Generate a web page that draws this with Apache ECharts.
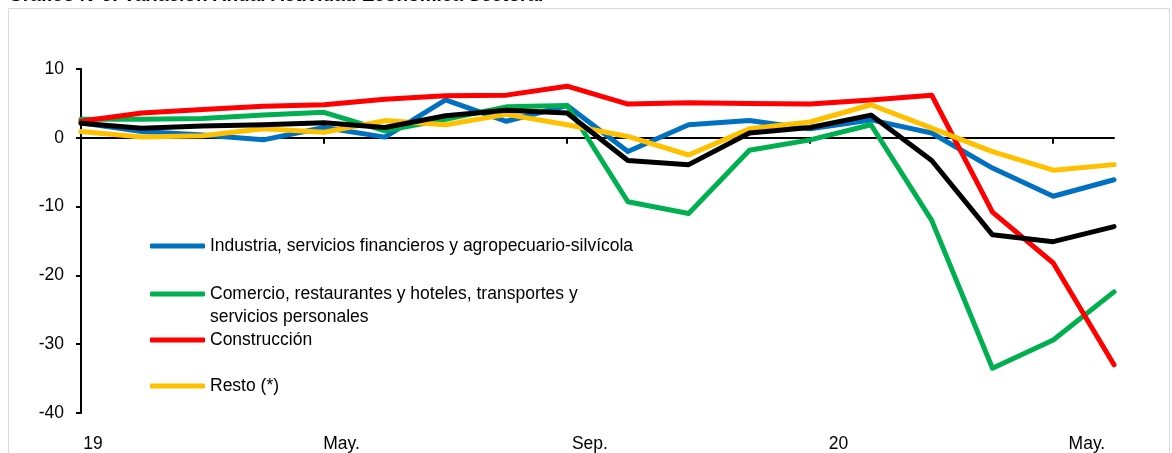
<!DOCTYPE html>
<html>
<head>
<meta charset="utf-8">
<script src="https://cdn.jsdelivr.net/npm/echarts@6/dist/echarts.min.js"></script>
<style>
html,body{margin:0;padding:0;background:#fff;}
#chart{width:1172px;height:453px;}
</style>
</head>
<body>
<div id="chart"></div>
<script>
// Categories: Jan 2019 .. Jun 2020
var categories = ["19","Feb.","Mar.","Abr.","May.","Jun.","Jul.","Ago.","Sep.","Oct.","Nov.","Dic.","20","Feb.","Mar.","Abr.","May.","Jun."];

var industria    = [2.2, 0.9, 0.4, -0.3, 1.5, 0.1, 5.5, 2.4, 4.7, -2.0, 1.9, 2.5, 1.3, 2.6, 0.7, -4.4, -8.5, -6.1];
var comercio     = [2.7, 2.7, 2.8, 3.3, 3.7, 1.0, 2.7, 4.5, 4.7, -9.3, -11.0, -1.8, -0.3, 1.9, -12.0, -33.5, -29.4, -22.4];
var construccion = [2.4, 3.6, 4.1, 4.6, 4.8, 5.6, 6.1, 6.2, 7.5, 4.9, 5.1, 5.0, 4.9, 5.5, 6.2, -10.8, -18.2, -33.0];
var resto        = [0.9, 0.1, 0.3, 1.3, 0.8, 2.5, 1.9, 3.4, 1.9, 0.2, -2.5, 1.3, 2.3, 4.8, 1.4, -2.0, -4.7, -3.9];
var total        = [2.1, 1.4, 1.7, 1.9, 2.2, 1.5, 3.2, 4.0, 3.6, -3.3, -3.9, 0.7, 1.5, 3.3, -3.3, -14.1, -15.1, -12.9];

var names = [
  "Industria, servicios financieros y agropecuario-silvícola",
  "Comercio, restaurantes y hoteles, transportes y servicios personales",
  "Construcción",
  "Resto (*)"
];
var yTicks = {min: -40, max: 10, interval: 10};

var FONT = "'Liberation Sans', Arial, sans-serif";
var FS = 17.5;

function mkLine(name, data, color, z) {
  return {
    name: name, type: 'line', data: data, symbol: 'none', z: z,
    xAxisIndex: 0, yAxisIndex: 0,
    color: color,
    lineStyle: {color: color, width: 5, cap: 'round', join: 'round'},
    itemStyle: {color: color},
    emphasis: {disabled: true},
    animation: false
  };
}

function mkLegend(name, top, extra) {
  var l = {
    data: [name], left: 150, top: top, padding: 0,
    icon: 'roundRect', itemWidth: 55, itemHeight: 5,
    itemStyle: {borderWidth: 0},
    selectedMode: false,
    textStyle: {fontFamily: FONT, fontSize: FS, color: '#000', lineHeight: 23}
  };
  if (extra) { for (var k in extra) l[k] = extra[k]; }
  return l;
}

var chart = echarts.init(document.getElementById('chart'));
chart.setOption({
  animation: false,
  backgroundColor: '#fff',
  title: {
    text: '{b|Gráfico N°6:} {n|Variación Anual Actividad Económica Sectoral}',
    left: 8, top: -14, padding: 0,
    textStyle: {
      rich: {
        b: {fontFamily: FONT, fontSize: 19, fontWeight: 'bold', color: '#000'},
        n: {fontFamily: FONT, fontSize: 19, color: '#000'}
      }
    }
  },
  graphic: [{
    type: 'rect', silent: true, z: -10,
    shape: {x: 8.5, y: 8.5, width: 1161, height: 460},
    style: {fill: 'none', stroke: '#d9d9d9', lineWidth: 1}
  }],
  grid: [
    {left: 81, right: 58, top: 69, bottom: 40},
    {left: 93, right: 23, top: 69, bottom: 40}
  ],
  legend: [
    mkLegend(names[0], 234.5),
    mkLegend(names[1], 259.5, {
      formatter: function (n) { return '\n' + n.replace('transportes y ', 'transportes y\n'); }
    }),
    mkLegend(names[2], 328.5),
    mkLegend(names[3], 374.5)
  ],
  xAxis: [{
    type: 'category', gridIndex: 0, data: categories, boundaryGap: false,
    axisLine: {onZero: true, lineStyle: {color: '#000', width: 2}},
    axisTick: {show: true, interval: 3, length: 6, inside: false, lineStyle: {color: '#000', width: 2}},
    axisLabel: {show: false},
    splitLine: {show: false}
  }, {
    type: 'category', gridIndex: 1, data: categories, boundaryGap: false, position: 'bottom',
    axisLine: {show: false}, axisTick: {show: false},
    axisLabel: {show: true, interval: 3, margin: 23, fontFamily: FONT, fontSize: FS, color: '#000'},
    splitLine: {show: false}
  }],
  yAxis: [{
    type: 'value', gridIndex: 0, min: yTicks.min, max: yTicks.max, interval: yTicks.interval,
    axisLine: {show: true, lineStyle: {color: '#000', width: 2}},
    axisTick: {show: true, length: 5, lineStyle: {color: '#000', width: 2}},
    axisLabel: {margin: 17, fontFamily: FONT, fontSize: FS, color: '#000'},
    splitLine: {show: false}
  }, {
    type: 'value', gridIndex: 1, min: yTicks.min, max: yTicks.max, show: false
  }],
  series: [
    mkLine(names[0], industria, '#0070C0', 2),
    mkLine(names[1], comercio, '#00B050', 3),
    mkLine(names[2], construccion, '#FF0000', 4),
    mkLine(names[3], resto, '#FFC000', 5),
    mkLine('Total', total, '#000000', 6)
  ]
});
</script>
</body>
</html>
